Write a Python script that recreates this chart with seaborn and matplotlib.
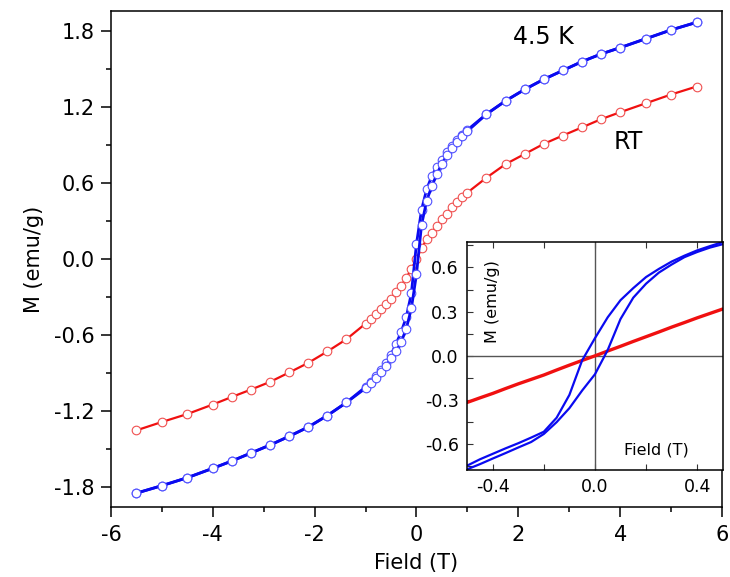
import numpy as np
import pandas as pd
import matplotlib
matplotlib.use("Agg")
import matplotlib.pyplot as plt
import seaborn as sns
from matplotlib.ticker import MultipleLocator

# ---------------- data ----------------
field_main = [-5.5, -5.0, -4.5, -4.0, -3.625, -3.25, -2.875, -2.5, -2.125, -1.75, -1.375,
              -1.0, -0.9, -0.8, -0.7, -0.6, -0.5, -0.4, -0.3, -0.2, -0.1, 0.0,
              0.1, 0.2, 0.3, 0.4, 0.5, 0.6, 0.7, 0.8, 0.9, 1.0,
              1.375, 1.75, 2.125, 2.5, 2.875, 3.25, 3.625, 4.0, 4.5, 5.0, 5.5]

m_rt = [-1.353, -1.287, -1.224, -1.149, -1.089, -1.031, -0.970, -0.896, -0.820, -0.730, -0.633,
        -0.510, -0.475, -0.437, -0.398, -0.356, -0.314, -0.264, -0.210, -0.150, -0.077, 0.000,
        0.085, 0.155, 0.208, 0.263, 0.314, 0.360, 0.410, 0.450, 0.490, 0.525,
        0.643, 0.750, 0.830, 0.910, 0.976, 1.040, 1.105, 1.160, 1.230, 1.300, 1.363]

# 4.5 K: descending branch (high field -> low field) and ascending branch
m_4k_desc = [-1.849, -1.790, -1.727, -1.653, -1.595, -1.532, -1.469, -1.400, -1.327, -1.236, -1.133,
             -1.010, -0.970, -0.925, -0.875, -0.820, -0.755, -0.670, -0.575, -0.460, -0.270, 0.120,
             0.390, 0.550, 0.655, 0.730, 0.785, 0.845, 0.895, 0.940, 0.980, 1.020,
             1.145, 1.250, 1.340, 1.420, 1.490, 1.560, 1.620, 1.670, 1.740, 1.810, 1.870]
m_4k_asc = [-1.849, -1.790, -1.727, -1.653, -1.595, -1.532, -1.469, -1.400, -1.327, -1.236, -1.133,
            -1.020, -0.980, -0.940, -0.895, -0.845, -0.785, -0.730, -0.655, -0.550, -0.390, -0.120,
            0.270, 0.460, 0.575, 0.670, 0.755, 0.820, 0.875, 0.925, 0.970, 1.010,
            1.145, 1.250, 1.340, 1.420, 1.490, 1.560, 1.620, 1.670, 1.740, 1.810, 1.870]

# inset (low-field zoom)
field_inset = [-0.5, -0.45, -0.4, -0.35, -0.3, -0.25, -0.2, -0.15, -0.1, -0.05, 0.0,
               0.05, 0.1, 0.15, 0.2, 0.25, 0.3, 0.35, 0.4, 0.45, 0.5]
inset_4k_desc = [-0.745, -0.702, -0.665, -0.628, -0.593, -0.555, -0.515, -0.420, -0.265, -0.030, 0.120,
                 0.262, 0.378, 0.460, 0.535, 0.590, 0.640, 0.680, 0.716, 0.745, 0.772]
inset_4k_asc = [-0.770, -0.735, -0.697, -0.660, -0.622, -0.585, -0.530, -0.450, -0.355, -0.235, -0.125,
                0.040, 0.250, 0.395, 0.490, 0.565, 0.620, 0.670, 0.705, 0.735, 0.758]
inset_rt = [-0.316, -0.285, -0.255, -0.222, -0.190, -0.160, -0.130, -0.096, -0.063, -0.031, 0.000,
            0.033, 0.065, 0.098, 0.130, 0.162, 0.195, 0.226, 0.258, 0.288, 0.318]

x_ticks = [-6, -4, -2, 0, 2, 4, 6]
y_ticks = [-1.8, -1.2, -0.6, 0.0, 0.6, 1.2, 1.8]
inset_x_ticks = [-0.4, 0.0, 0.4]
inset_y_ticks = [-0.6, -0.3, 0.0, 0.3, 0.6]

# ---------------- styling ----------------
sns.set_theme(style="ticks")
plt.rcParams['font.family'] = ['DejaVu Sans']
plt.rcParams['text.color'] = 'black'
plt.rcParams['axes.labelcolor'] = 'black'
plt.rcParams['xtick.color'] = 'black'
plt.rcParams['ytick.color'] = 'black'

BLUE = "#0a0af0"
RED = "#f01010"
BLUE_M = "#5050ff"
RED_M = "#f05050"

fig = plt.figure(figsize=(7.30, 5.77), dpi=100)
ax = fig.add_axes([0.152, 0.121, 0.837, 0.860])

df_rt = pd.DataFrame({"H": field_main, "M": m_rt})
df_desc = pd.DataFrame({"H": field_main[::-1], "M": m_4k_desc[::-1]})
df_asc = pd.DataFrame({"H": field_main, "M": m_4k_asc})

mk = dict(marker="o", markersize=6.2, markerfacecolor="white", markeredgewidth=0.8)
sns.lineplot(data=df_rt, x="H", y="M", ax=ax, sort=False, estimator=None,
             color=RED, lw=1.6, markeredgecolor=RED_M, **mk)
sns.lineplot(data=df_desc, x="H", y="M", ax=ax, sort=False, estimator=None,
             color=BLUE, lw=2.0, markeredgecolor=BLUE_M, **mk)
sns.lineplot(data=df_asc, x="H", y="M", ax=ax, sort=False, estimator=None,
             color=BLUE, lw=2.0, markeredgecolor=BLUE_M, **mk)

ax.set_xlim(-6, 6)
ax.set_ylim(-1.96, 1.96)
ax.set_xticks(x_ticks)
ax.set_xticklabels([f"{t:g}" for t in x_ticks])
ax.set_yticks(y_ticks)
ax.set_yticklabels([f"{t:.1f}" for t in y_ticks])
ax.xaxis.set_minor_locator(MultipleLocator(1))
ax.yaxis.set_minor_locator(MultipleLocator(0.3))
ax.tick_params(which="major", direction="out", length=7.5, width=1.1, labelsize=15,
               top=False, right=False)
ax.tick_params(axis="x", which="major", pad=5)
ax.tick_params(axis="y", which="major", pad=4.3)
ax.tick_params(which="minor", direction="out", length=3.8, width=1.1, top=False, right=False)
for s in ax.spines.values():
    s.set_linewidth(1.1)
    s.set_color("black")
ax.set_xlabel("Field (T)", fontsize=15)
ax.set_ylabel("M (emu/g)", fontsize=15)
ax.xaxis.set_label_coords(0.5, -0.092)
ax.yaxis.set_label_coords(-0.110, 0.5)
ax.text(2.49, 1.757, "4.5 K", fontsize=17, ha="center", va="center")
ax.text(4.16, 0.925, "RT", fontsize=17, ha="center", va="center")

# ---------------- inset ----------------
axi = fig.add_axes([0.640, 0.1854, 0.350, 0.3957])
axi.set_facecolor("white")
axi.axhline(0, color="#555555", lw=1.0, zorder=1)
axi.axvline(0, color="#555555", lw=1.0, zorder=1)
di_rt = pd.DataFrame({"H": field_inset, "M": inset_rt})
di_desc = pd.DataFrame({"H": field_inset[::-1], "M": inset_4k_desc[::-1]})
di_asc = pd.DataFrame({"H": field_inset, "M": inset_4k_asc})
sns.lineplot(data=di_rt, x="H", y="M", ax=axi, sort=False, estimator=None, color=RED, lw=2.4)
sns.lineplot(data=di_desc, x="H", y="M", ax=axi, sort=False, estimator=None, color=BLUE, lw=1.6)
sns.lineplot(data=di_asc, x="H", y="M", ax=axi, sort=False, estimator=None, color=BLUE, lw=1.6)
axi.set_xlim(-0.5, 0.5)
axi.set_ylim(-0.775, 0.775)
axi.set_xticks(inset_x_ticks)
axi.set_xticklabels([f"{t:.1f}" for t in inset_x_ticks])
axi.set_yticks(inset_y_ticks)
axi.set_yticklabels([f"{t:.1f}" for t in inset_y_ticks])
axi.xaxis.set_minor_locator(MultipleLocator(0.2))
axi.yaxis.set_minor_locator(MultipleLocator(0.15))
axi.tick_params(which="both", direction="in", top=True, right=False, width=0.8,
                color="#333333", labelsize=12.5)
axi.tick_params(which="major", length=4, pad=6)
axi.tick_params(which="minor", length=4)
for s in axi.spines.values():
    s.set_linewidth(1.1)
    s.set_color("black")
axi.set_xlabel("")
axi.set_ylabel("")
axi.text(0.10, 0.736, "M (emu/g)", transform=axi.transAxes, rotation=90,
         fontsize=11.5, ha="center", va="center")
axi.text(0.742, 0.088, "Field (T)", transform=axi.transAxes,
         fontsize=11.5, ha="center", va="center")

fig.savefig("out.png", dpi=100)
